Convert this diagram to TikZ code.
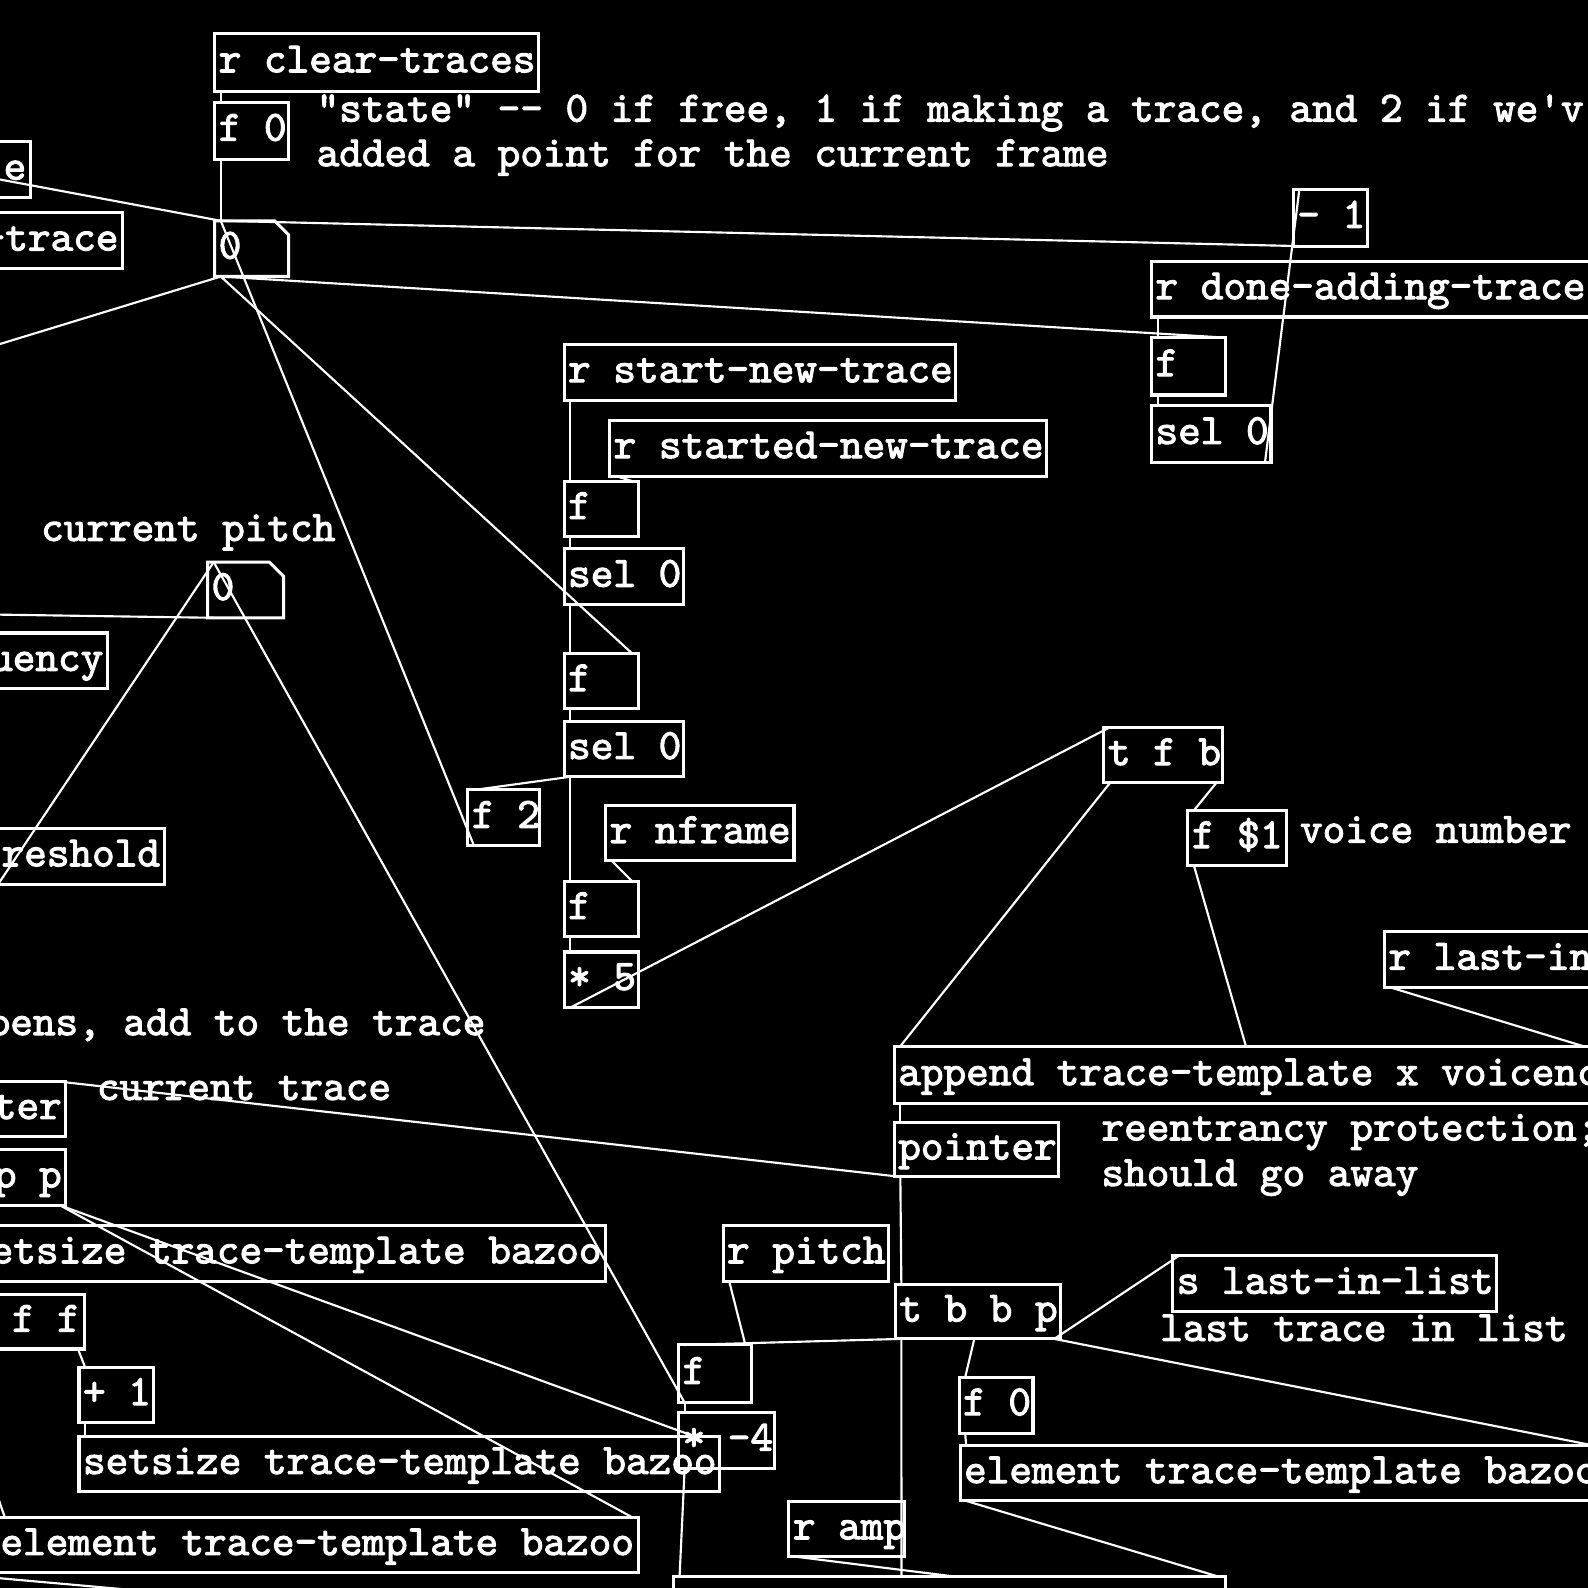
\documentclass[tikz,border=0pt]{standalone}
\usepackage{fontspec}
\newfontfamily\pdfont{lmmono10-regular.otf}[FakeBold=2.4]
\newcommand{\pdtext}{\pdfont\fontsize{12.1}{14}\selectfont}

% object box: name, x1, y1, x2, y2, text
\newcommand{\pdobj}[6]{%
  \pgfmathsetmacro{\pdw}{(#4-#2)*0.01-0.08}%
  \pgfmathsetmacro{\pdh}{(#5-#3)*0.01}%
  \node[obj, minimum height=\pdh cm] (#1) at (#2,#3) {\makebox[\pdw cm][l]{\strut #6}};%
}
% box cut off by the left edge of the window: name, x2, y1, y2, text
\newcommand{\pdcut}[5]{%
  \pgfmathsetmacro{\pdw}{(#2+60)*0.01-0.08}%
  \pgfmathsetmacro{\pdh}{(#4-#3)*0.01}%
  \node[obj, anchor=north east, minimum height=\pdh cm] (#1) at (#2,#3) {\makebox[\pdw cm][r]{\strut #5}};%
}
% number box with the clipped corner
\newcommand{\pdnum}[6]{%
  \pgfmathsetmacro{\pdw}{(#4-#2)*0.01-0.08}%
  \pgfmathsetmacro{\pdh}{(#5-#3)*0.01}%
  \node[obj, draw=none, minimum height=\pdh cm] (#1) at (#2,#3) {\makebox[\pdw cm][l]{\strut #6}};%
  \draw[box] (#1.north west) -- ([xshift=-0.14cm]#1.north east) -- ([yshift=-0.14cm]#1.north east) -- (#1.south east) -- (#1.south west) -- cycle;%
}

\begin{document}
\begin{tikzpicture}[x=0.01cm, y=-0.01cm,
  box/.style = {draw=white, line width=0.85pt},
  obj/.style = {box, text=white, font=\pdtext, inner xsep=0.04cm, inner ysep=0pt, outer sep=0pt, anchor=north west},
  cmt/.style = {text=white, font=\pdtext, inner sep=0pt, anchor=base west},
  wire/.style = {draw=white, line width=0.6pt}]
\useasboundingbox (0,0) rectangle (1568,1568);
\fill[black] (0,0) rectangle (1568,1568);
\clip (0,0) rectangle (1568,1568);

% state
\pdobj{clr}{212}{33}{532}{90}{r clear-traces}
\pdobj{fzero}{212}{101}{285}{157}{f 0}
\node[cmt] (state1) at (312,120) {"state" -- 0 if free, 1 if making a trace, and 2 if we'v};
\node[cmt] (state2) at (312,164) {added a point for the current frame};
\pdcut{ebox}{30}{140}{195}{e}
\pdcut{trbox}{121}{210}{265}{-trace}
\pdnum{state}{212}{218}{285}{273}{0}
\pdobj{minus}{1277}{187}{1350}{243}{- 1}
\pdobj{done}{1137}{258}{1640}{313}{r done-adding-trace}
\pdobj{fdone}{1137}{333}{1210}{390}{f}
\pdobj{seldone}{1137}{400}{1255}{457}{sel 0}

% new trace
\pdobj{start}{557}{340}{943}{395}{r start-new-trace}
\pdobj{started}{602}{415}{1033}{470}{r started-new-trace}
\pdobj{fa}{557}{475}{630}{530}{f}
\pdobj{sela}{557}{542}{675}{597}{sel 0}
\pdobj{fb}{557}{645}{630}{700}{f}
\pdobj{selb}{557}{712}{675}{767}{sel 0}
\pdobj{ftwo}{462}{780}{533}{835}{f 2}
\pdobj{nframe}{598}{795}{784}{850}{r nframe}
\pdobj{fc}{557}{870}{630}{925}{f}
\pdobj{times}{557}{940}{630}{995}{* 5}

% pitch
\node[cmt] (pitchcmt) at (40,534) {current pitch};
\pdnum{pitch}{205}{555}{280}{610}{0}
\pdcut{uency}{106}{625}{680}{uency}
\pdcut{thresh}{162}{818}{873}{reshold}

% append
\pdobj{tfb}{1090}{718}{1207}{773}{t f b}
\pdobj{voice}{1173}{800}{1270}{855}{f \$1}
\node[cmt] (voicecmt) at (1283,832) {voice number};
\pdobj{lastin}{1367}{920}{1640}{975}{r last-in}
\pdobj{append}{883}{1033}{1640}{1090}{append trace-template x voicenc}
\pdobj{ptr}{883}{1108}{1045}{1162}{pointer}
\node[cmt] (reent1) at (1087,1126) {reentrancy protection;};
\node[cmt] (reent2) at (1087,1171) {should go away};

% left column
\node[cmt, anchor=base east] (addcmt) at (480,1022) {pens, add to the trace};
\pdcut{ter}{65}{1068}{1122}{ter}
\node[cmt] (curcmt) at (95,1086) {current trace};
\pdcut{pp}{65}{1135}{1190}{p p}
\pdcut{setsz}{598}{1210}{1265}{etsize trace-template bazoo}
\pdcut{ff}{83}{1278}{1332}{f f}
\pdobj{plus}{78}{1350}{152}{1405}{+ 1}
\pdobj{setszb}{78}{1418}{710}{1473}{setsize trace-template bazoo}
\pdcut{elem}{630}{1498}{1553}{element trace-template bazoo}

% add a point
\pdobj{rpitch}{714}{1210}{877}{1265}{r pitch}
\pdobj{tbbp}{884}{1268}{1047}{1322}{t b b p}
\pdobj{slast}{1158}{1240}{1478}{1295}{s last-in-list}
\node[cmt] (lastcmt) at (1145,1324) {last trace in list};
\pdobj{fd}{670}{1328}{742}{1385}{f}
\pdobj{mul}{670}{1395}{765}{1450}{* -4}
\pdobj{fz}{947}{1360}{1020}{1415}{f 0}
\pdobj{elemb}{948}{1427}{1578}{1482}{element trace-template bazoo}
\pdobj{amp}{779}{1483}{893}{1537}{r amp}
\pdobj{outbox}{665}{1557}{1210}{1640}{}

% ends outside the window
\coordinate (offe) at (-60,166);
\coordinate (offb) at (-60,358);
\coordinate (offc) at (-60,606);
\coordinate (offd) at (-60,960);
\coordinate (offg) at (300,1585);
\coordinate (offh) at (-15,1440);

% connections
\draw[wire] ([xshift=.06cm]clr.south west) -- ([xshift=.06cm]fzero.north west);
\draw[wire] ([xshift=.06cm]fzero.south west) -- ([xshift=.06cm]state.north west);
\draw[wire] (offe) -- ([xshift=.06cm]state.north west);
\draw[wire] ([xshift=.06cm]minus.south west) -- ([xshift=.06cm]state.north west);
\draw[wire] ([xshift=.06cm]state.south west) -- ([xshift=-.06cm]fdone.north east);
\draw[wire] ([xshift=.06cm]state.south west) -- (offb);
\draw[wire] ([xshift=.06cm]ftwo.south west) -- ([xshift=.06cm]state.north west);
\draw[wire] ([xshift=.06cm]state.south west) -- ([xshift=-.06cm]fb.north east);
\draw[wire] ([xshift=.06cm]done.south west) -- ([xshift=.06cm]fdone.north west);
\draw[wire] ([xshift=.06cm]fdone.south west) -- ([xshift=.06cm]seldone.north west);
\draw[wire] ([xshift=-.06cm]seldone.south east) -- ([xshift=.06cm]minus.north west);
\draw[wire] ([xshift=.06cm]start.south west) -- ([xshift=.06cm]fa.north west);
\draw[wire] ([xshift=.06cm]started.south west) -- ([xshift=-.06cm]fa.north east);
\draw[wire] ([xshift=.06cm]fa.south west) -- ([xshift=.06cm]sela.north west);
\draw[wire] ([xshift=.06cm]sela.south west) -- ([xshift=.06cm]fb.north west);
\draw[wire] ([xshift=.06cm]fb.south west) -- ([xshift=.06cm]selb.north west);
\draw[wire] ([xshift=.06cm]selb.south west) -- ([xshift=.06cm]fc.north west);
\draw[wire] ([xshift=.06cm]selb.south west) -- ([xshift=.06cm]ftwo.north west);
\draw[wire] ([xshift=.06cm]nframe.south west) -- ([xshift=-.06cm]fc.north east);
\draw[wire] ([xshift=.06cm]fc.south west) -- ([xshift=.06cm]times.north west);
\draw[wire] ([xshift=.06cm]times.south west) -- ([xshift=.06cm]tfb.north west);
\draw[wire] ([xshift=.06cm]tfb.south west) -- ([xshift=.06cm]append.north west);
\draw[wire] ([xshift=-.06cm]tfb.south east) -- ([xshift=.06cm]voice.north west);
\draw[wire] ([xshift=.06cm]voice.south west) -- ([xshift=3.47cm]append.north west);
\draw[wire] ([xshift=.06cm]lastin.south west) -- ([xshift=6.8cm]append.north west);
\draw[wire] ([xshift=.06cm]append.south west) -- ([xshift=.06cm]ptr.north west);
\draw[wire] ([xshift=.06cm]ptr.south west) -- ([xshift=-.06cm]ter.north east);
\draw[wire] ([xshift=.06cm]ptr.south west) -- ([xshift=.06cm]tbbp.north west);
\draw[wire] ([xshift=.06cm]rpitch.south west) -- ([xshift=-.06cm]fd.north east);
\draw[wire] ([xshift=.06cm]tbbp.south west) -- ([xshift=.06cm]fd.north west);
\draw[wire] ([xshift=.78cm]tbbp.south west) -- ([xshift=.06cm]fz.north west);
\draw[wire] ([xshift=-.06cm]tbbp.south east) -- ([xshift=.06cm]slast.north west);
\draw[wire] ([xshift=-.06cm]tbbp.south east) -- ([xshift=-.06cm]elemb.north east);
\draw[wire] ([xshift=.06cm]fd.south west) -- ([xshift=.06cm]mul.north west);
\draw[wire] ([xshift=.06cm]fd.south west) -- ([xshift=.06cm]pitch.north west);
\draw[wire] ([xshift=.06cm]mul.south west) -- ([xshift=.06cm]outbox.north west);
\draw[wire] ([xshift=.06cm]tbbp.south west) -- ([xshift=2.25cm]outbox.north west);
\draw[wire] ([xshift=.06cm]fz.south west) -- ([xshift=.06cm]elemb.north west);
\draw[wire] ([xshift=.06cm]elemb.south west) -- ([xshift=-.06cm]outbox.north east);
\draw[wire] ([xshift=.06cm]amp.south west) -- ([xshift=2.8cm]outbox.north west);
\draw[wire] ([xshift=.06cm]pitch.south west) -- (offc);
\draw[wire] (offd) -- ([xshift=.06cm]pitch.north west);
\draw[wire] ([xshift=-.06cm]pp.south east) -- ([xshift=-.25cm]setszb.north east);
\draw[wire] ([xshift=-.06cm]pp.south east) -- ([xshift=-.06cm]elem.north east);
\draw[wire] ([xshift=-.06cm]ff.south east) -- ([xshift=.06cm]plus.north west);
\draw[wire] ([xshift=.06cm]plus.south west) -- ([xshift=.06cm]setszb.north west);
\draw[wire] ([xshift=-6.9cm]elem.south east) -- (offg);
\draw[wire] (offh) -- ([xshift=-6.25cm]elem.north east);
\end{tikzpicture}
\end{document}
